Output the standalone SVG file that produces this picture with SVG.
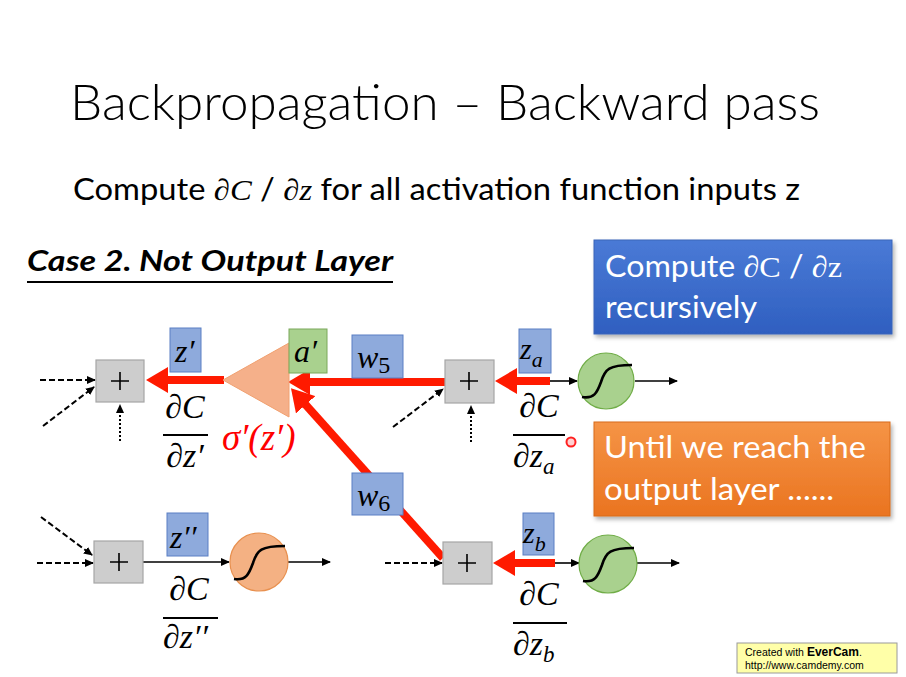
<svg xmlns="http://www.w3.org/2000/svg" width="906" height="677" viewBox="0 0 906 677">
<defs>
<style>
.t{font-family:"Lato","Liberation Sans","Open Sans",sans-serif;fill:#000}
.tw{font-family:"Liberation Sans","Open Sans",sans-serif;fill:#000}
.tl{font-family:"Lato","Open Sans","Liberation Sans",sans-serif;font-weight:300;fill:#000}
.m{font-family:"Liberation Serif","DejaVu Serif",serif;font-style:italic;fill:#000}
.mu{font-family:"Liberation Serif","DejaVu Serif",serif;font-style:normal}
.wt{font-family:"Lato","Liberation Sans","Open Sans",sans-serif;fill:#fff}
.plus{fill:#cdcdcd;stroke:#a6a6a6;stroke-width:1.2}
.ps{stroke:#000;stroke-width:1.6;fill:none}
.lb{fill:#8eaadc;stroke:#5a7fc4;stroke-width:1}
.lg{fill:#a9d18e;stroke:#7aa85a;stroke-width:1}
.gc{fill:#a9d18e;stroke:#70ad47;stroke-width:1.2}
.oc{fill:#f4b183;stroke:#e8904f;stroke-width:1.2}
.sig{fill:none;stroke:#000;stroke-width:2.6}
.red{stroke:#ff1a00;stroke-width:8;fill:none;marker-end:url(#rh)}
.blk{stroke:#000;stroke-width:1.6;fill:none;marker-end:url(#bh)}
.dash{stroke:#000;stroke-width:2;fill:none;stroke-dasharray:6,3;marker-end:url(#bh)}
.dot{stroke:#000;stroke-width:2;fill:none;stroke-dasharray:2,2;marker-end:url(#bh)}
.fl{stroke:#000;stroke-width:2}
</style>
<marker id="rh" viewBox="0 -13 22 26" markerWidth="22" markerHeight="26" refX="1" refY="0" orient="auto" markerUnits="userSpaceOnUse">
<path d="M0,-13 L22,0 L0,13 z" fill="#ff1a00"/>
</marker>
<marker id="bh" viewBox="0 -4 9 8" markerWidth="9" markerHeight="8" refX="8" refY="0" orient="auto" markerUnits="userSpaceOnUse">
<path d="M0,-4 L9,0 L0,4 z" fill="#000"/>
</marker>
<linearGradient id="gblue" x1="0" y1="0" x2="0" y2="1">
<stop offset="0" stop-color="#4a7ad6"/><stop offset="1" stop-color="#2f5fc0"/>
</linearGradient>
<linearGradient id="gorange" x1="0" y1="0" x2="0" y2="1">
<stop offset="0" stop-color="#f59446"/><stop offset="1" stop-color="#ea7420"/>
</linearGradient>
<filter id="sh" x="-10%" y="-10%" width="120%" height="130%">
<feDropShadow dx="2" dy="3" stdDeviation="2" flood-color="#000" flood-opacity="0.3"/>
</filter>
</defs>
<rect width="906" height="677" fill="#fff"/>

<g id="title">
<text class="tl" x="70" y="120" font-size="50" textLength="750" lengthAdjust="spacingAndGlyphs">Backpropagation – Backward pass</text>
</g>
<g id="subtitle">
<text class="t" x="73" y="200" font-size="30" textLength="727" lengthAdjust="spacingAndGlyphs">Compute <tspan class="m">∂C</tspan> / <tspan class="m">∂z</tspan> for all activation function inputs z</text>
</g>
<g id="case">
<text class="t" x="27" y="271" font-size="28" font-weight="bold" font-style="italic" textLength="366" lengthAdjust="spacingAndGlyphs">Case 2. Not Output Layer</text>
<line x1="27" y1="282" x2="393" y2="282" stroke="#000" stroke-width="2"/>
</g>

<g id="note-recursive">
<rect x="594" y="240" width="298" height="94" fill="url(#gblue)" stroke="#3a65b8" stroke-width="1" filter="url(#sh)"/>
<text class="wt" x="605" y="277" font-size="30" textLength="237" lengthAdjust="spacingAndGlyphs">Compute <tspan class="mu" font-style="italic">∂C</tspan> / <tspan class="mu" font-style="italic">∂z</tspan></text>
<text class="wt" x="605" y="318" font-size="30" textLength="152" lengthAdjust="spacingAndGlyphs">recursively</text>
</g>
<g id="note-until">
<rect x="594" y="422" width="296" height="94" fill="url(#gorange)" stroke="#d86a1a" stroke-width="1" filter="url(#sh)"/>
<text class="wt" x="604" y="458" font-size="30" textLength="262" lengthAdjust="spacingAndGlyphs">Until we reach the</text>
<text class="wt" x="604" y="500" font-size="30" textLength="230" lengthAdjust="spacingAndGlyphs">output layer ......</text>
</g>

<g id="connectors">
<path class="dash" d="M40,380 L95,380"/>
<path class="dash" d="M43,426 L94,387"/>
<path class="dot" d="M120,441 L120,405"/>
<path class="dash" d="M393,427 L443,389"/>
<path class="dot" d="M471,442 L471,406"/>
<path class="dash" d="M41,517 L92,555"/>
<path class="dash" d="M37,563 L93,563"/>
<path class="dash" d="M385,563 L442,563"/>
<path class="blk" d="M550,381 L577,381"/>
<path class="blk" d="M635,381 L677,381"/>
<path class="blk" d="M143,562 L229,562"/>
<path class="blk" d="M288,562 L330,562"/>
<path class="blk" d="M555,563 L579,563"/>
<path class="blk" d="M637,563 L679,563"/>
<path class="red" d="M224,380 L167,380"/>
<path class="red" d="M445,382 L309,382"/>
<path class="red" d="M443,558 L305,404"/>
<path class="red" d="M550,381 L516,381"/>
<path class="red" d="M555,563 L514,563"/>
</g>

<g id="triangle">
<polygon points="223,380 289,343 289,417" fill="#f5b08a" stroke="#f0a070" stroke-width="1"/>
</g>

<g id="sum1"><rect class="plus" x="96" y="360" width="48" height="42"/><path class="ps" d="M111,381 H129 M120,372 V390"/></g>
<g id="sum2"><rect class="plus" x="445" y="360" width="49" height="43"/><path class="ps" d="M460,381 H478 M469,372 V390"/></g>
<g id="sum3"><rect class="plus" x="94" y="541" width="49" height="42"/><path class="ps" d="M110,562 H128 M119,553 V571"/></g>
<g id="sum4"><rect class="plus" x="443" y="542" width="49" height="42"/><path class="ps" d="M458,563 H476 M467,554 V572"/></g>

<g id="act-a"><circle class="gc" cx="606" cy="381" r="28"/><path class="sig" d="M582,397 C594,399 597,393 601,382 C605,369 609,365 632,365"/></g>
<g id="act-z2"><circle class="oc" cx="259" cy="562" r="29"/><path class="sig" d="M234,579 C246,581 249,574 253,563 C257,550 261,546 285,546"/></g>
<g id="act-b"><circle class="gc" cx="608" cy="564" r="29"/><path class="sig" d="M583,581 C595,583 598,576 602,565 C606,552 610,548 634,548"/></g>

<g id="label-z1"><rect class="lb" x="170" y="328" width="31" height="44"/><text class="m" x="175" y="362" font-size="32">z′</text></g>
<g id="label-a1"><rect class="lg" x="289" y="329" width="38" height="44"/><text class="m" x="294" y="362" font-size="32">a′</text></g>
<g id="label-w5"><rect class="lb" x="352" y="335" width="51" height="43"/><text class="m" x="357" y="368" font-size="32">w<tspan class="mu" font-size="24" dy="5">5</tspan></text></g>
<g id="label-w6"><rect class="lb" x="352" y="473" width="51" height="42"/><text class="m" x="357" y="506" font-size="32">w<tspan class="mu" font-size="24" dy="5">6</tspan></text></g>
<g id="label-za"><rect class="lb" x="519" y="329" width="32" height="44"/><text class="m" x="520" y="359" font-size="30">z<tspan font-size="22" dy="8">a</tspan></text></g>
<g id="label-z2"><rect class="lb" x="167" y="513" width="41" height="43"/><text class="m" x="170" y="548" font-size="32">z′′</text></g>
<g id="label-zb"><rect class="lb" x="523" y="513" width="31" height="42"/><text class="m" x="523" y="543" font-size="30">z<tspan font-size="22" dy="8">b</tspan></text></g>

<g id="grad-z1">
<text class="m" x="185" y="418" font-size="34" text-anchor="middle">∂C</text>
<line class="fl" x1="163" y1="435" x2="208" y2="435"/>
<text class="m" x="185" y="467" font-size="34" text-anchor="middle">∂z′</text>
</g>
<g id="sigma-prime">
<text class="m" x="222" y="450" font-size="37" style="fill:#ff0000">σ′(z′)</text>
</g>
<g id="grad-za">
<text class="m" x="539" y="417" font-size="34" text-anchor="middle">∂C</text>
<line class="fl" x1="513" y1="435" x2="565" y2="435"/>
<text class="m" x="513" y="467" font-size="34">∂z<tspan font-size="23" dy="7">a</tspan></text>
</g>
<g id="grad-z2">
<text class="m" x="189" y="600" font-size="34" text-anchor="middle">∂C</text>
<line class="fl" x1="163" y1="618" x2="218" y2="618"/>
<text class="m" x="163" y="648" font-size="34">∂z′′</text>
</g>
<g id="grad-zb">
<text class="m" x="539" y="605" font-size="34" text-anchor="middle">∂C</text>
<line class="fl" x1="513" y1="623" x2="567" y2="623"/>
<text class="m" x="513" y="655" font-size="34">∂z<tspan font-size="23" dy="7">b</tspan></text>
</g>

<g id="cursor"><circle cx="571" cy="442" r="4.5" fill="#ffd0d0" stroke="#ff2020" stroke-width="2"/></g>

<g id="watermark">
<rect x="737" y="643" width="160" height="30" fill="#ffffa8" stroke="#9a9a9a" stroke-width="1"/>
<text class="tw" x="745" y="656" font-size="10.5">Created with <tspan font-weight="bold" font-size="12">EverCam</tspan>.</text>
<text class="tw" x="745" y="669" font-size="10.5">http://www.camdemy.com</text>
</g>
</svg>
